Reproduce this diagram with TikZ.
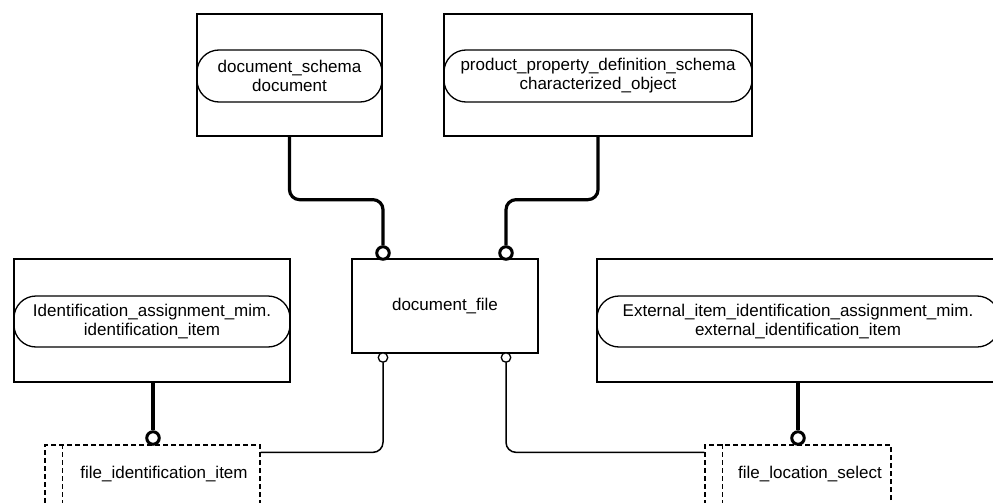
\documentclass[tikz,border=0pt]{standalone}
\usepackage{fontspec}
\setmainfont{Liberation Sans}
\usetikzlibrary{calc}
\tikzset{
  ent/.style={draw, line width=1.3pt, inner sep=0pt},
  pill/.style={draw, line width=1.3pt, rounded corners=22pt, inner sep=0pt, align=center,
    font=\fontsize{17}{19}\selectfont},
  dashline/.style={line width=1.3pt, dash pattern=on 5pt off 3pt},
  dbox/.style={draw, dashline, inner sep=0pt},
  lbl/.style={font=\fontsize{17}{19}\selectfont, inner sep=0pt},
  bigc/.style={circle, draw, fill=white, line width=3pt, minimum size=12.5pt, inner sep=0pt},
  smallc/.style={circle, draw, fill=white, line width=1.3pt, minimum size=9.5pt, inner sep=0pt},
  thickconn/.style={line width=3.2pt, rounded corners=10pt},
  thinconn/.style={line width=1.5pt, rounded corners=10pt},
}
\begin{document}
\begin{tikzpicture}[x=1pt,y=-1pt]
\useasboundingbox (0,0) rectangle (993,503);
\clip (0,0) rectangle (993,503);
\fill[white] (0,0) rectangle (993,503);
% entity boxes
\node[ent, minimum width=185pt, minimum height=122pt] (tl) at (289.5,75) {};
\node[pill, minimum width=185pt, minimum height=52pt] (tlp) at (289.5,76) {document\_schema\\document};
\node[ent, minimum width=308pt, minimum height=122pt] (tr) at (598,75) {};
\node[pill, minimum width=308pt, minimum height=52pt] (trp) at (598,76) {product\_property\_definition\_schema\\characterized\_object};
\node[ent, minimum width=276pt, minimum height=123pt] (ml) at (152,320.5) {};
\node[pill, minimum width=276pt, minimum height=51pt] (mlp) at (152,321.5) {Identification\_assignment\_mim.\\identification\_item};
\node[ent, minimum width=402pt, minimum height=123pt] (mr) at (798,320.5) {};
\node[pill, minimum width=402pt, minimum height=51pt] (mrp) at (798,321.5) {External\_item\_identification\_assignment\_mim.\\external\_identification\_item};
\node[ent, minimum width=186pt, minimum height=94pt, font=\fontsize{17}{19}\selectfont] (df) at (445,306) {document\_file};
% select boxes (dashed)
\node[dbox, minimum width=215pt, minimum height=85pt] (fid) at (152.5,487.5) {};
\draw[dashline] ($(fid.north west)+(18,0)$) -- ($(fid.south west)+(18,0)$);
\node[lbl] (fidt) at (164,474) {file\_identification\_item};
\node[dbox, minimum width=186pt, minimum height=85pt] (fls) at (798,487.5) {};
\draw[dashline] ($(fls.north west)+(18,0)$) -- ($(fls.south west)+(18,0)$);
\node[lbl] (flst) at (810,474) {file\_location\_select};
% circles
\node[bigc] (c1) at (383,253) {};
\node[bigc] (c2) at (506,253) {};
\node[bigc] (c3) at (153,438) {};
\node[bigc] (c4) at (798,438) {};
\node[smallc] (s1) at (383,357.5) {};
\node[smallc] (s2) at (506,357.5) {};
% connectors
\draw[thickconn] (tl.south) -- ++(0,63) -| (c1.north);
\draw[thickconn] (tr.south) -- ++(0,63) -| (c2.north);
\draw[line width=3.2pt] (ml.south -| c3) -- (c3.north);
\draw[line width=3.2pt] (mr.south -| c4) -- (c4.north);
\draw[thinconn] (s1.south) |- ($(fid.north east)+(0,8)$);
\draw[thinconn] (s2.south) |- ($(fls.north west)+(0,8)$);
\end{tikzpicture}
\end{document}
